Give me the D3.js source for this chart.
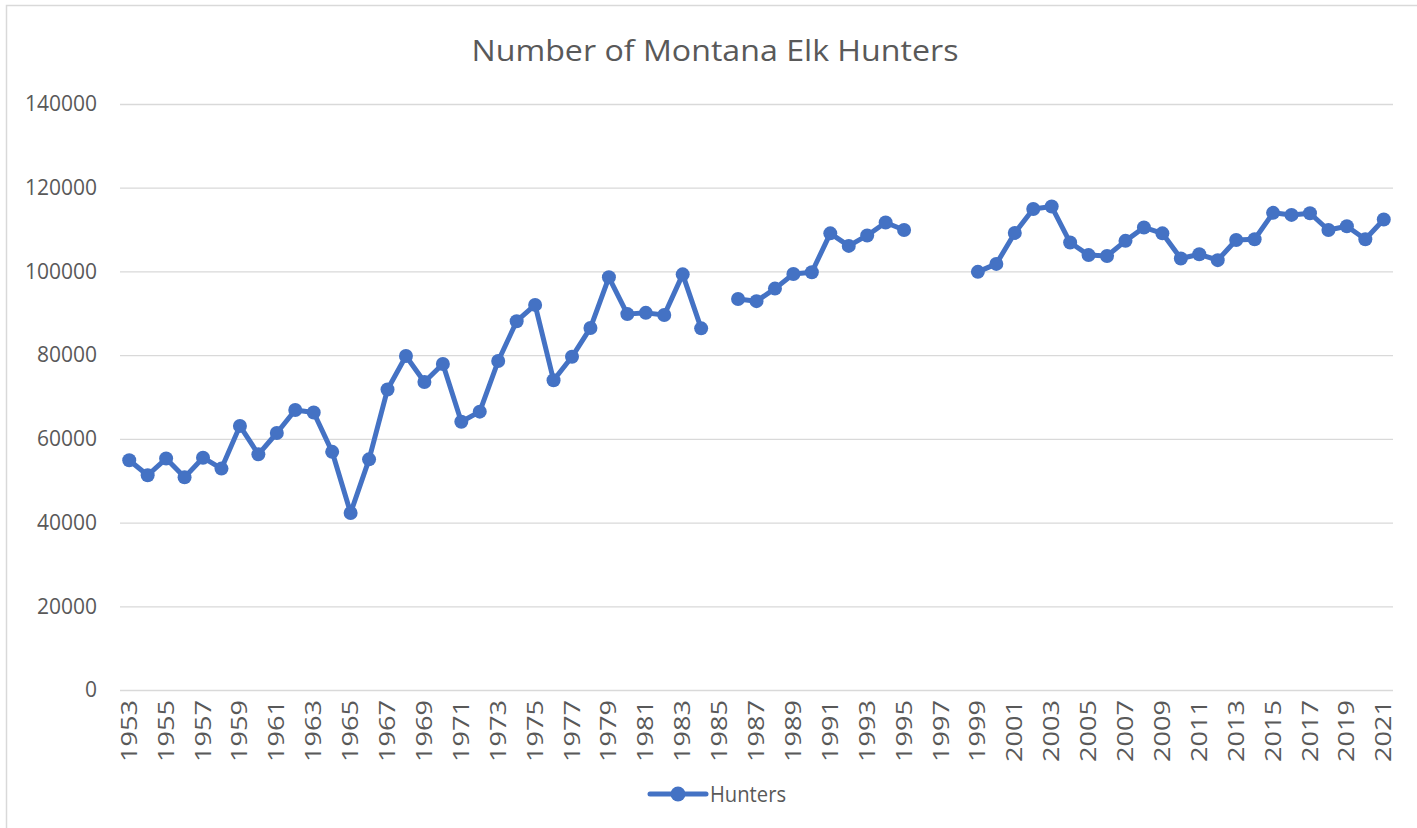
<!DOCTYPE html>
<html>
<head>
<meta charset="utf-8">
<script src="https://cdn.jsdelivr.net/npm/d3@7"></script>
<style>
  body { margin: 0; background: #fff; }
  text { font-family: "Open Sans", sans-serif; fill: #595959; }
</style>
</head>
<body>
<div id="chart"></div>
<script>
const years = d3.range(1953, 2022).map(String);

// null = no survey that year
const hunters = [
  54900, 51300, 55300, 50800, 55500, 52900, 63100, 56300, 61400, 66900,
  66300, 56900, 42300, 55100, 71800, 79800, 73600, 77900, 64100, 66500,
  78600, 88100, 92000, 74000, 79600, 86500, 98600, 89800, 90100, 89600,
  99300, 86400, null, 93400, 92900, 95900, 99400, 99800, 109100, 106100,
  108600, 111700, 109900, null, null, null, 99900, 101800, 109200, 114900,
  115500, 106900, 103900, 103700, 107300, 110500, 109100, 103100, 104100, 102700,
  107500, 107700, 114000, 113500, 113900, 109900, 110800, 107700, 112400
];

const yTicks = [0, 20000, 40000, 60000, 80000, 100000, 120000, 140000];
const labelYears = years.filter((d, i) => i % 2 === 0);

const width = 1417;
const height = 828;
const margin = { top: 104, right: 24, bottom: 138, left: 120 };
const blue = "#4472C4";

const svg = d3
  .select("#chart")
  .append("svg")
  .attr("width", width)
  .attr("height", height);

// chart area border (only top/left visible in the crop)
svg
  .append("path")
  .attr("d", `M6.5,${height} V5.5 H${width}`)
  .attr("fill", "none")
  .attr("stroke", "#d9d9d9")
  .attr("stroke-width", 1.5);

const x = d3
  .scaleBand()
  .domain(years)
  .range([margin.left, width - margin.right]);

const y = d3
  .scaleLinear()
  .domain([0, 140000])
  .range([height - margin.bottom, margin.top]);

const cx = (d) => x(d) + x.bandwidth() / 2;

// gridlines
svg
  .append("g")
  .attr("transform", `translate(${margin.left},0)`)
  .call(
    d3
      .axisLeft(y)
      .tickValues(yTicks)
      .tickSize(-(width - margin.right - margin.left))
      .tickFormat("")
  )
  .call((g) => g.select(".domain").remove())
  .call((g) => g.selectAll("line").attr("stroke", "#d9d9d9").attr("stroke-width", 1.3));

// Y labels
svg
  .append("g")
  .attr("transform", `translate(97,0)`)
  .call(d3.axisLeft(y).tickValues(yTicks).tickSize(0).tickPadding(0).tickFormat(d3.format("d")))
  .call((g) => g.select(".domain").remove())
  .call((g) =>
    g.selectAll("text").attr("font-size", 21).attr("fill", "#595959").attr("font-family", "Open Sans")
  );

// X labels
svg
  .append("g")
  .attr("transform", `translate(0,${height - margin.bottom})`)
  .call(d3.axisBottom(x).tickValues(labelYears).tickSize(0))
  .call((g) => g.select(".domain").remove())
  .call((g) =>
    g
      .selectAll("text")
      .attr("font-size", 21)
      .attr("font-family", "Open Sans")
      .attr("fill", "#595959")
      .attr("transform", "rotate(-90)")
      .attr("text-anchor", "end")
      .attr("x", -10)
      .attr("y", 0)
      .attr("dy", "0.36em")
      .attr("textLength", 62)
      .attr("lengthAdjust", "spacingAndGlyphs")
  );

const pts = years.map((yr, i) => ({ yr, v: hunters[i] }));

svg
  .append("path")
  .datum(pts)
  .attr("fill", "none")
  .attr("stroke", blue)
  .attr("stroke-width", 5)
  .attr("stroke-linejoin", "round")
  .attr(
    "d",
    d3
      .line()
      .defined((d) => d.v != null)
      .x((d) => cx(d.yr))
      .y((d) => y(d.v))
  );

svg
  .append("g")
  .selectAll("circle")
  .data(pts.filter((d) => d.v != null))
  .join("circle")
  .attr("cx", (d) => cx(d.yr))
  .attr("cy", (d) => y(d.v))
  .attr("r", 7)
  .attr("fill", blue);

// title
svg
  .append("text")
  .attr("x", 715)
  .attr("y", 61)
  .attr("text-anchor", "middle")
  .attr("font-size", 30)
  .attr("textLength", 487)
  .attr("lengthAdjust", "spacingAndGlyphs")
  .text("Number of Montana Elk Hunters");

// legend
const lg = svg.append("g").attr("transform", "translate(650,794)");
lg.append("line").attr("x1", 0).attr("x2", 56).attr("stroke", blue).attr("stroke-width", 5).attr("stroke-linecap", "round");
lg.append("circle").attr("cx", 28).attr("r", 7.5).attr("fill", blue);
lg.append("text").attr("x", 60).attr("y", 7.5).attr("font-size", 21).attr("textLength", 76).attr("lengthAdjust", "spacingAndGlyphs").text("Hunters");
</script>
</body>
</html>
